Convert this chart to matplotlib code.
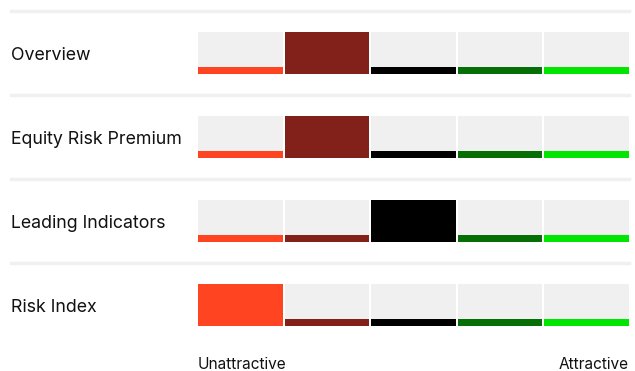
import matplotlib.pyplot as plt

plt.rcParams['font.family'] = ['Inter', 'DejaVu Sans']

rows = ['Overview', 'Equity Risk Premium', 'Leading Indicators', 'Risk Index']
selected = [1, 1, 2, 0]  # column index of the current reading per row
colors = ['#FF4422', '#82211A', '#000000', '#056E05', '#00E600']
scale_labels = ['Unattractive', 'Attractive']

W, H = 635, 371
fig = plt.figure(figsize=(W / 100, H / 100), dpi=100)
ax = fig.add_axes([0, 0, 1, 1])
ax.set_xlim(0, W)
ax.set_ylim(H, 0)
ax.axis('off')

x0, x1 = 198, 629
gap = 1.8
cw = (x1 - x0 + gap) / len(colors)
row_top, row_h, row_pitch = 32, 42, 84
strip_h = 7

for r, name in enumerate(rows):
    top = row_top + r * row_pitch
    bottom = top + row_h
    # separator above row
    ax.axhline(top - 21.5, color='#F0F0F0', lw=2.5, xmin=11 / W, xmax=629 / W)
    ax.text(11, top + row_h / 2 + 2, name, fontsize=12.8, color='#111111',
            va='center', ha='left')
    for c, col in enumerate(colors):
        left = x0 + c * cw
        w = cw - gap
        if c == selected[r]:
            ax.bar(left, row_h, width=w, bottom=top, align='edge', color=col, lw=0)
        else:
            ax.bar(left, row_h, width=w, bottom=top, align='edge', color='#F0F0F0', lw=0)
            ax.bar(left, strip_h, width=w, bottom=bottom - strip_h, align='edge',
                   color=col, lw=0)

ax.text(x0, 364.5, scale_labels[0], fontsize=11.1, color='#111111', ha='left', va='center')
ax.text(x1, 364.5, scale_labels[1], fontsize=11.1, color='#111111', ha='right', va='center')

fig.savefig('out.png', dpi=100)
